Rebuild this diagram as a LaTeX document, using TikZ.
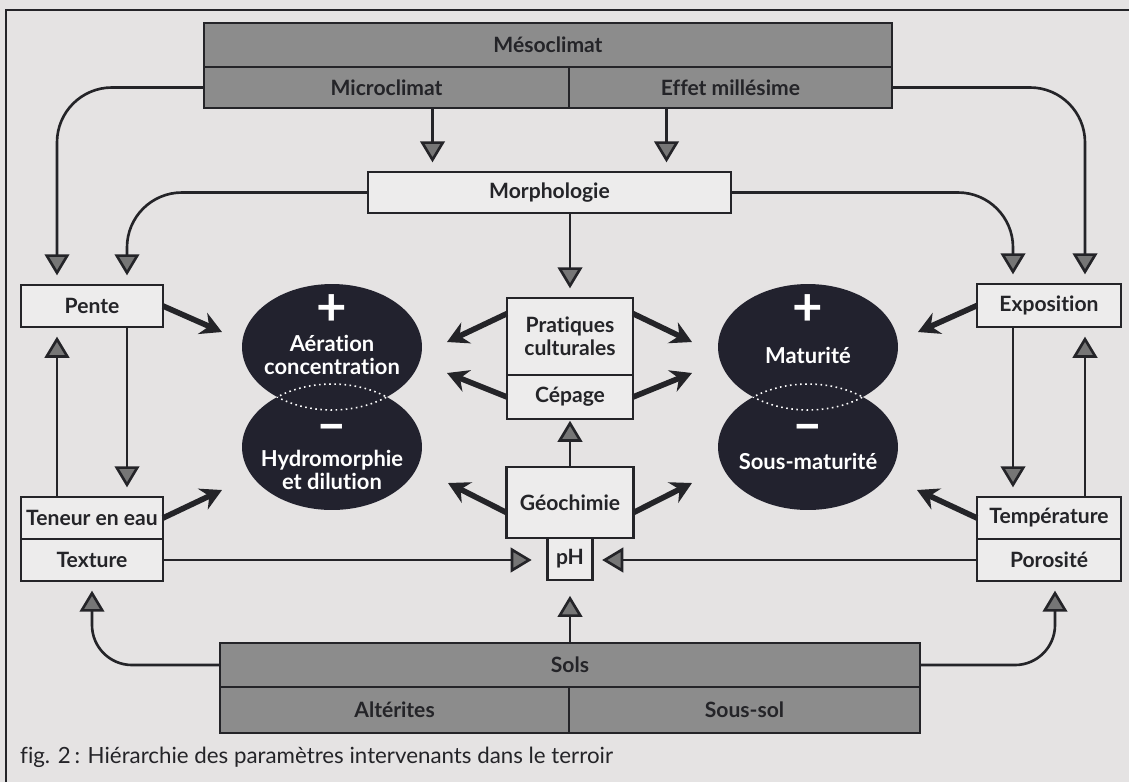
\documentclass[tikz,border=0pt]{standalone}
\usepackage{fontspec}
\setmainfont{Lato}[Ligatures=NoCommon]
\usepackage{tikz}
\usetikzlibrary{calc,positioning,arrows.meta,shapes.geometric}
\usepackage{xcolor}
\definecolor{paper}{RGB}{229,227,227}
\definecolor{boxlight}{RGB}{237,236,236}
\definecolor{boxdark}{RGB}{140,140,140}
\definecolor{tipgray}{RGB}{118,118,118}
\definecolor{inkdark}{RGB}{34,34,46}
\definecolor{linedark}{RGB}{36,36,40}

\begin{document}
\begin{tikzpicture}[x=0.02cm, y=-0.02cm, font=\bfseries\fontsize{12}{13}\selectfont,
  lbox/.style={draw=linedark, line width=1.3pt, fill=boxlight, text=linedark, inner sep=0pt, outer sep=0pt, align=center},
  dbox/.style={lbox, fill=boxdark},
  blob/.style={ellipse, fill=inkdark, minimum width=3.6cm, minimum height=2.52cm, inner sep=0pt},
  wtext/.style={text=white, align=center, inner sep=0pt, font=\bfseries\fontsize{12.5}{13}\selectfont},
  sign/.style={text=white, inner sep=0pt, font=\bfseries\fontsize{30}{30}\selectfont},
  graytip/.style={draw=linedark, line width=1.5pt, shorten >=5.5pt,
    -{Triangle[width=14pt,length=12pt,fill=tipgray]}},
  fat/.style={draw=linedark, line width=3.2pt, -{Stealth[width=13pt,length=12pt,inset=4pt]}},
  lens/.style={draw=white, line width=0.9pt, dotted}]

  % Paper and frame
  \useasboundingbox (0,0) rectangle (1129,782);
  \fill[paper] (0,0) rectangle (1129,782);
  \draw[linedark, line width=0.7pt] (6,782) -- (6,10) -- (1129,10);

  % Climate bands
  \node[dbox, minimum width=13.76cm, minimum height=0.88cm] (meso) at (548,45) {Mésoclimat};
  \node[dbox, minimum width=7.3cm, minimum height=0.82cm, anchor=north west] (micro) at (meso.south west) {Microclimat};
  \node[dbox, minimum width=6.46cm, minimum height=0.82cm, anchor=north east] (mill) at (meso.south east) {Effet millésime};
  \node[lbox, minimum width=7.26cm, minimum height=0.82cm] (morph) at (549.5,192.5) {Morphologie};

  % Side boxes
  \node[lbox, minimum width=2.84cm, minimum height=0.84cm] (pente) at (92,306) {Pente};
  \node[lbox, minimum width=2.84cm, minimum height=0.84cm] (teneur) at (92,518) {Teneur en eau};
  \node[lbox, minimum width=2.84cm, minimum height=0.84cm, below=0pt of teneur] (texture) {Texture};
  \node[lbox, minimum width=2.88cm, minimum height=0.86cm] (expo) at (1049,305.5) {Exposition};
  \node[lbox, minimum width=2.88cm, minimum height=0.84cm] (temp) at (1049,518) {Température};
  \node[lbox, minimum width=2.88cm, minimum height=0.84cm, below=0pt of temp] (poro) {Porosité};

  % Middle column
  \node[lbox, minimum width=2.52cm, minimum height=1.54cm] (prat) at (570,336.5) {Pratiques\\culturales};
  \node[lbox, minimum width=2.52cm, minimum height=0.88cm, below=0pt of prat] (cep) {Cépage};
  \node[lbox, minimum width=2.54cm, minimum height=1.42cm] (geo) at (570,502.5) {Géochimie};
  \node[lbox, minimum width=0.9cm, minimum height=0.84cm, below=0pt of geo] (ph) {pH};

  % Soil bands
  \node[dbox, minimum width=14cm, minimum height=0.88cm] (sols) at (570,665) {Sols};
  \node[dbox, minimum width=6.98cm, minimum height=0.92cm, anchor=north west] (alt) at (sols.south west) {Altérites};
  \node[dbox, minimum width=7.02cm, minimum height=0.92cm, anchor=north east] (ssol) at (sols.south east) {Sous-sol};

  % Effects (ellipses)
  \node[blob] (eA) at (332,347) {};
  \node[blob] (eB) at (332,447) {};
  \node[blob] (eC) at (808,347) {};
  \node[blob] (eD) at (808,447) {};
  \begin{scope}
    \clip (eB) ellipse (1.8cm and 1.26cm);
    \draw[lens] (eA) ellipse (1.8cm and 1.26cm);
  \end{scope}
  \begin{scope}
    \clip (eA) ellipse (1.8cm and 1.26cm);
    \draw[lens] (eB) ellipse (1.8cm and 1.26cm);
  \end{scope}
  \begin{scope}
    \clip (eD) ellipse (1.8cm and 1.26cm);
    \draw[lens] (eC) ellipse (1.8cm and 1.26cm);
  \end{scope}
  \begin{scope}
    \clip (eC) ellipse (1.8cm and 1.26cm);
    \draw[lens] (eD) ellipse (1.8cm and 1.26cm);
  \end{scope}
  \node[sign] (pA) at (332,310) {+};
  \node[wtext] (tA) at (332,355) {Aération\\concentration};
  \node[sign] (mB) at (332,433) {–};
  \node[wtext] (tB) at (332,470) {Hydromorphie\\et dilution};
  \node[sign] (pC) at (808,310) {+};
  \node[wtext] (tC) at (808,355) {Maturité};
  \node[sign] (mD) at (808,433) {–};
  \node[wtext] (tD) at (808,461) {Sous-maturité};

  % Gray-tip links
  \coordinate (mA) at ($(morph.north)+(-117,0)$);
  \coordinate (mB) at ($(morph.north)+(117,0)$);
  \draw[graytip] (micro.south -| mA) -- (mA);
  \draw[graytip] (mill.south -| mB) -- (mB);
  \draw[graytip] (morph.south -| prat.north) -- (prat.north);
  \draw[graytip, rounded corners=1.1cm] (micro.west) -| ($(pente.north)+(-35,0)$);
  \draw[graytip, rounded corners=1.1cm] (morph.west) -| ($(pente.north)+(35,0)$);
  \draw[graytip, rounded corners=1.1cm] (mill.east) -| ($(expo.north)+(36,0)$);
  \draw[graytip, rounded corners=1.1cm] (morph.east) -| ($(expo.north)+(-36,0)$);
  \draw[graytip] ($(pente.south)+(35,0)$) -- ($(teneur.north)+(35,0)$);
  \draw[graytip] ($(teneur.north)+(-35,0)$) -- ($(pente.south)+(-35,0)$);
  \draw[graytip] ($(expo.south)+(-36,0)$) -- ($(temp.north)+(-36,0)$);
  \draw[graytip] ($(temp.north)+(36,0)$) -- ($(expo.south)+(36,0)$);
  \draw[graytip, shorten >=1pt] (geo.north) -- (cep.south);
  \draw[graytip, shorten >=9pt] (texture.east) -- (texture.east -| ph.west);
  \draw[graytip] (poro.west) -- (poro.west -| ph.east);
  \draw[graytip, shorten >=9pt] (sols.north -| ph.south) -- (ph.south);
  \draw[graytip, rounded corners=0.8cm] (sols.west) -| (texture.south);
  \draw[graytip, rounded corners=0.8cm] (sols.east) -| ($(poro.south)+(6,0)$);

  % Thick arrows into the effects
  \foreach \src/\dst/\dx/\dy in {pente.east/eA/-110/-15, teneur.east/eB/-110/43,
      prat.160/eA/115/-5, cep.west/eA/115/26, geo.189/eB/116/36,
      prat.20/eC/-116/-5, cep.east/eC/-116/26, geo.351/eD/-116/36,
      expo.west/eC/110/-15, temp.west/eD/109/43} {
    \draw[fat] (\src) -- ($(\dst)+(\dx,\dy)$);
  }

  % Caption
  \node[anchor=west, text=linedark, font=\mdseries\fontsize{12.7}{14}\selectfont] (cap) at (14,757)
    {fig. 2\,: Hiérarchie des paramètres intervenants dans le terroir};
\end{tikzpicture}
\end{document}
